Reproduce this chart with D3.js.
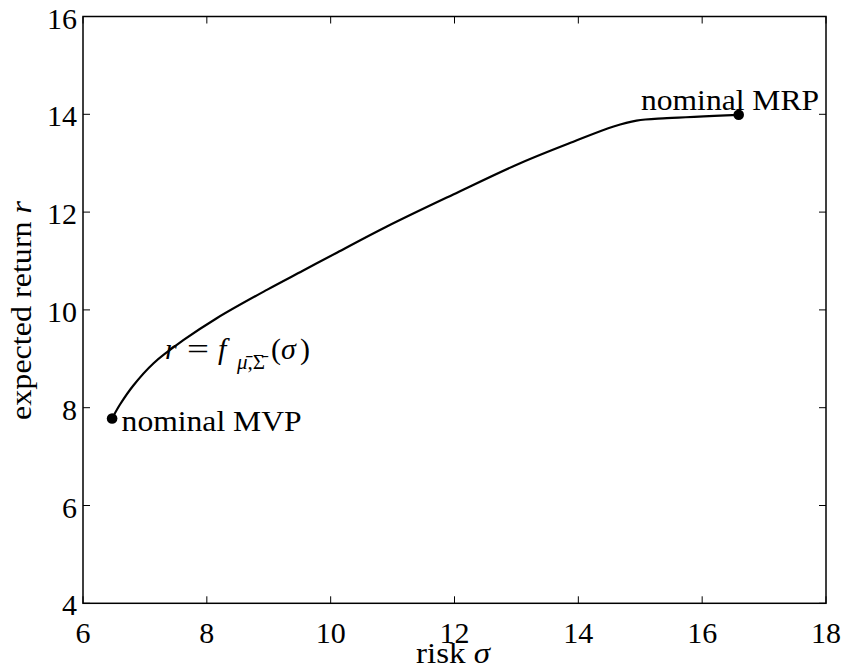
<!DOCTYPE html>
<html>
<head>
<meta charset="utf-8">
<script src="https://cdn.jsdelivr.net/npm/d3@7"></script>
<style>
	body { margin: 0; background: #fff; }
	text { font-family: "Liberation Serif", "Times New Roman", serif; fill: #000; }
</style>
</head>
<body>
<script>
//frontier points (risk sigma, expected return r)
const riskValues = [6.47, 6.60, 6.81, 7.14, 7.62, 8.16, 8.97, 9.55, 10.10, 10.90, 11.98, 13.06, 13.92, 14.57, 14.94, 15.43, 16.59];
const returnValues = [7.78, 8.07, 8.45, 8.91, 9.38, 9.83, 10.41, 10.80, 11.17, 11.70, 12.36, 13.00, 13.44, 13.75, 13.87, 13.92, 13.99];
const xTicks = [6, 8, 10, 12, 14, 16, 18];
const yTicks = [4, 6, 8, 10, 12, 14, 16];
const markerNames = ['nominal MVP', 'nominal MRP'];

const width = 844, height = 671;
const margin = {top: 16.5, right: 18, bottom: 67.7, left: 83};

const svg = d3.select('body')
	.append('svg')
	.attr('width', width)
	.attr('height', height);

const x = d3.scaleLinear().domain([6, 18]).range([margin.left, width - margin.right]);
const y = d3.scaleLinear().domain([4, 16]).range([height - margin.bottom, margin.top]);

const tickLen = 7;
const fontSize = 30;

//ticks on all four sides, pointing inward
const axisG = svg.append('g').attr('stroke', '#000').attr('stroke-width', 1);
axisG.selectAll('.xtb').data(xTicks).enter().append('line')
	.attr('x1', d => x(d)).attr('x2', d => x(d))
	.attr('y1', y(4)).attr('y2', y(4) - tickLen);
axisG.selectAll('.xtt').data(xTicks).enter().append('line')
	.attr('x1', d => x(d)).attr('x2', d => x(d))
	.attr('y1', y(16)).attr('y2', y(16) + tickLen);
axisG.selectAll('.ytl').data(yTicks).enter().append('line')
	.attr('x1', x(6)).attr('x2', x(6) + tickLen)
	.attr('y1', d => y(d)).attr('y2', d => y(d));
axisG.selectAll('.ytr').data(yTicks).enter().append('line')
	.attr('x1', x(18)).attr('x2', x(18) - tickLen)
	.attr('y1', d => y(d)).attr('y2', d => y(d));

//box
svg.append('rect')
	.attr('x', x(6)).attr('y', y(16))
	.attr('width', x(18) - x(6)).attr('height', y(4) - y(16))
	.attr('fill', 'none').attr('stroke', '#000').attr('stroke-width', 1.5);

//tick labels
svg.selectAll('.xl').data(xTicks).enter().append('text')
	.attr('x', d => x(d)).attr('y', y(4) + 40)
	.attr('text-anchor', 'middle')
	.style('font-size', fontSize + 'px')
	.text(d => d);
svg.selectAll('.yl').data(yTicks).enter().append('text')
	.attr('x', x(6) - 6).attr('y', d => y(d) + 12)
	.attr('text-anchor', 'end')
	.style('font-size', fontSize + 'px')
	.text(d => d);

//axis titles
const xt = svg.append('text')
	.attr('x', 416).attr('y', 663)
	.attr('textLength', 74).attr('lengthAdjust', 'spacingAndGlyphs')
	.style('font-size', fontSize + 'px');
xt.append('tspan').text('risk ');
xt.append('tspan').style('font-style', 'italic').text('σ');

const yt = svg.append('text')
	.attr('transform', `translate(31,${(y(4) + y(16)) / 2 + 110}) rotate(-90)`)
	.attr('textLength', 219).attr('lengthAdjust', 'spacingAndGlyphs')
	.style('font-size', fontSize + 'px');
yt.append('tspan').text('expected return ');
yt.append('tspan').style('font-style', 'italic').text('r');

//frontier curve
const pts = riskValues.map((s, i) => [s, returnValues[i]]);
const line = d3.line()
	.x(d => x(d[0]))
	.y(d => y(d[1]))
	.curve(d3.curveCatmullRom.alpha(0.5));
svg.append('path')
	.datum(pts)
	.attr('d', line)
	.attr('fill', 'none')
	.attr('stroke', '#000')
	.attr('stroke-width', 2.2);

//end markers
const ends = [pts[0], pts[pts.length - 1]];
svg.selectAll('.dot').data(ends).enter().append('circle')
	.attr('cx', d => x(d[0])).attr('cy', d => y(d[1]))
	.attr('r', 5.3)
	.attr('fill', '#000');

svg.append('text')
	.attr('x', x(ends[0][0]) + 9.5).attr('y', y(ends[0][1]) + 13)
	.attr('textLength', 180).attr('lengthAdjust', 'spacingAndGlyphs')
	.style('font-size', fontSize + 'px')
	.text(markerNames[0]);
svg.append('text')
	.attr('x', 641).attr('y', y(ends[1][1]) - 5)
	.attr('textLength', 178).attr('lengthAdjust', 'spacingAndGlyphs')
	.style('font-size', fontSize + 'px')
	.text(markerNames[1]);

//formula label r = f_{mu bar, Sigma bar}(sigma)
const f = svg.append('text').style('font-size', fontSize + 'px');
f.append('tspan').attr('x', 165).attr('y', 359).style('font-style', 'italic').text('r');
f.append('tspan').attr('x', 187).attr('y', 359).attr('textLength', 22).attr('lengthAdjust', 'spacingAndGlyphs').text('=');
f.append('tspan').attr('x', 218).attr('y', 359).style('font-style', 'italic').text('f');
f.append('tspan').attr('x', 237).attr('y', 369).style('font-size', '21px').style('font-style', 'italic').text('μ̄');
f.append('tspan').attr('y', 369).style('font-size', '21px').text(',Σ̄');
f.append('tspan').attr('x', 271).attr('y', 359).text('(');
f.append('tspan').attr('x', 281).attr('y', 359).style('font-style', 'italic').text('σ');
f.append('tspan').attr('x', 300).attr('y', 359).text(')');
</script>
</body>
</html>
